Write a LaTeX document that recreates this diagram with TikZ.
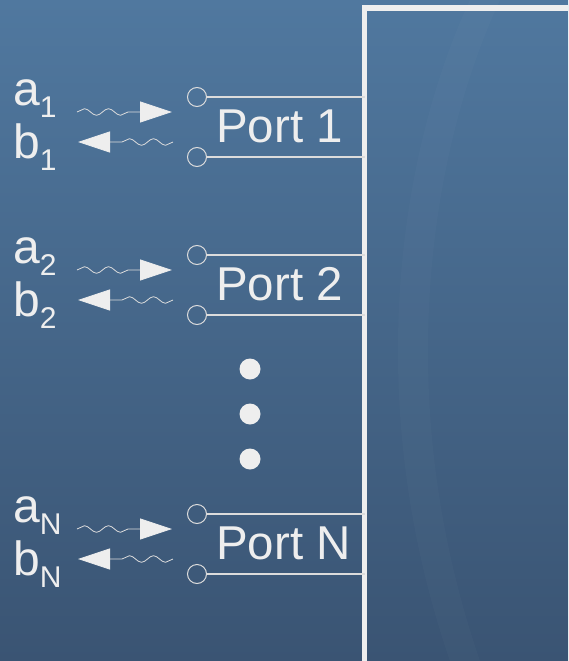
\documentclass[tikz,border=0pt]{standalone}
\usepackage{fontspec}
\setmainfont{Liberation Sans}
\usetikzlibrary{arrows.meta,decorations.pathmorphing}
\definecolor{bgtop}{HTML}{50789F}
\definecolor{bgbot}{HTML}{3A5473}
\definecolor{fg}{HTML}{EEEEEE}
\definecolor{wire}{HTML}{DCDCDC}
\tikzset{
  lbl/.style={anchor=base west, inner sep=0pt, text=fg, font=\fontsize{48}{48}\selectfont},
  portlbl/.style={anchor=base west, inner sep=0pt, text=fg, font=\fontsize{47.5}{47.5}\selectfont},
  term/.style={circle, draw=wire, line width=1pt, minimum size=19pt, inner sep=0pt},
  wireline/.style={draw=wire, line width=1.2pt},
  wavy/.style={draw=wire, line width=0.8pt, decorate,
    decoration={snake, amplitude=3.3pt, segment length=24pt, post length=33pt},
    -{Triangle[length=32pt,width=21pt,fill=fg,color=fg]}},
  dotc/.style={circle, fill=fg, minimum size=21pt, inner sep=0pt},
}
\newcommand{\sub}[1]{\raisebox{-12pt}{\fontsize{30}{30}\selectfont #1}}
\begin{document}
\begin{tikzpicture}[x=1pt,y=-1pt]
\useasboundingbox (0,0) rectangle (568,661);
\clip (0,0) rectangle (568,661);
\shade[top color=bgtop, bottom color=bgbot] (0,0) rectangle (568,661);
% faint decorative arcs
\fill[white, opacity=0.02] (470,0) .. controls (400,150) and (360,400) .. (450,661) -- (480,661) .. controls (390,400) and (430,150) .. (500,0) -- cycle;
% device box
\draw[fg, line width=5.5pt] (364.5,8) rectangle (620,700);
\coordinate (boxL) at (364.5,0);
% ports
\foreach \n/\dy/\s in {1/0/1, 2/158/2, N/417/N}{
  \begin{scope}[yshift=-\dy pt]
  \node[term] (t\n) at (197,97) {};
  \node[term] (r\n) at (197,157) {};
  \coordinate (te\n) at (boxL |- t\n);
  \coordinate (re\n) at (boxL |- r\n);
  \draw[wireline] (t\n.east) -- (te\n);
  \draw[wireline] (r\n.east) -- (re\n);
  \node[portlbl] (p\n) at (216,142) {Port \s};
  \node[lbl] (a\n) at (13,105) {a\sub{\s}};
  \node[lbl] (b\n) at (13,158) {b\sub{\s}};
  \coordinate (as\n) at (77,112);
  \coordinate (ae\n) at (172,112);
  \coordinate (bs\n) at (173,142);
  \coordinate (be\n) at (78,142);
  \draw[wavy] (as\n) -- (ae\n);
  \draw[wavy] (bs\n) -- (be\n);
  \end{scope}
}
\node[dotc] (d1) at (250,369) {};
\node[dotc] (d2) at (250,414) {};
\node[dotc] (d3) at (250,459) {};
\end{tikzpicture}
\end{document}
